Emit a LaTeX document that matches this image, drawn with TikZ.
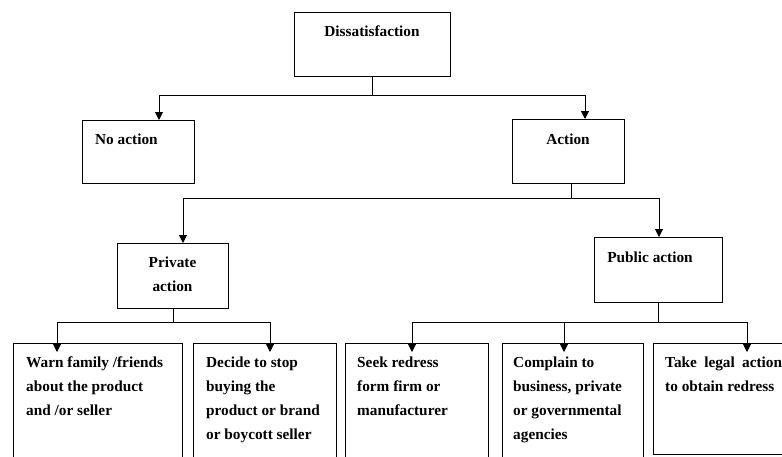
\documentclass[tikz,border=0pt]{standalone}
\usepackage{fontspec}
\setmainfont{Liberation Serif}
\usetikzlibrary{arrows.meta}
\newcommand{\topstrut}{\rule{0pt}{12pt}}
\begin{document}
\begin{tikzpicture}[x=1pt,y=-1pt,
  box/.style={draw, line width=1.3pt, rectangle, inner sep=0pt, anchor=north west},
  lbl/.style={inner sep=0pt, font=\fontsize{15.3}{24}\selectfont\bfseries, align=left},
  link/.style={line width=1pt},
  arr/.style={line width=1pt, -{Triangle[length=8pt,width=8pt]}},
  deep/.style={arr, shorten >=-9pt},
]
\fill[white] (0,0) rectangle (782,456);
\useasboundingbox (0,0) rectangle (782,456);
\clip (0,0) rectangle (782,456);

% boxes
\node[box, minimum width=156pt, minimum height=64pt] (diss) at (294,12) {};
\node[box, minimum width=112pt, minimum height=63pt] (noact) at (82,120) {};
\node[box, minimum width=112pt, minimum height=64pt] (act) at (512,119) {};
\node[box, minimum width=111pt, minimum height=65pt] (priv) at (117,243) {};
\node[box, minimum width=128pt, minimum height=65pt] (publ) at (594,237) {};
\node[box, minimum width=169pt, minimum height=125pt] (b1) at (13,343) {};
\node[box, minimum width=143pt, minimum height=125pt] (b2) at (193,343) {};
\node[box, minimum width=143pt, minimum height=125pt] (b3) at (345,343) {};
\node[box, minimum width=141pt, minimum height=125pt] (b4) at (502,343) {};
\node[box, minimum width=150pt, minimum height=111pt] (b5) at (653,343) {};

% texts (first baseline = anchor y + 12)
\node[lbl, anchor=base] (tdiss) at (372,36) {Dissatisfaction};
\node[lbl, anchor=base west] (tnoact) at (95,144) {No action};
\node[lbl, anchor=base] (tact) at (568,144) {Action};
\node[lbl, anchor=north, align=center] (tpriv) at (172.5,255) {\topstrut Private\\action};
\node[lbl, anchor=base] (tpubl) at (650,262) {Public action};
\node[lbl, anchor=north west] (tb1) at (26,355) {\topstrut Warn family /friends\\about the product\\and /or seller};
\node[lbl, anchor=north west] (tb2) at (206,355) {\topstrut Decide to stop\\buying the\\product or brand\\or boycott seller};
\node[lbl, anchor=north west] (tb3) at (357,355) {\topstrut Seek redress\\form firm or\\manufacturer};
\node[lbl, anchor=north west] (tb4) at (513,355) {\topstrut Complain to\\business, private\\or governmental\\agencies};
\node[lbl, anchor=north west] (tb5) at (665,355) {\topstrut Take\hspace{7.3pt}legal\hspace{7.3pt}action\\to obtain redress};

% connectors
\coordinate (j0) at (diss.south |- 0,95);
\draw[link] (diss.south) -- (j0);
\draw[arr] (j0) -| (noact.north -| 159,0);
\draw[arr] (j0) -| (act.north -| 585,0);

\coordinate (j1) at (571,198);
\draw[link] (act.south -| 571,0) -- (j1);
\draw[arr] (j1) -| (priv.north -| 183,0);
\draw[arr] (j1) -| (publ.north -| 659,0);

\coordinate (j2) at (priv.south |- 0,322);
\draw[link] (priv.south) -- (j2);
\draw[deep] (j2) -| (b1.north -| 57,0);
\draw[deep] (j2) -| (b2.north -| 270,0);

\coordinate (j3) at (publ.south |- 0,322);
\draw[link] (publ.south) -- (j3);
\draw[deep] (j3) -| (b3.north -| 412,0);
\draw[deep] (j3) -- (j3 -| 564,0) -- (b4.north -| 564,0);
\draw[deep] (j3) -| (b5.north -| 747,0);
\end{tikzpicture}
\end{document}
